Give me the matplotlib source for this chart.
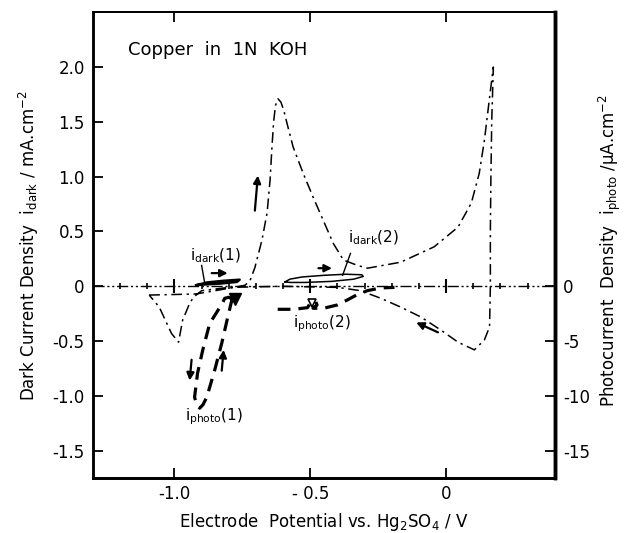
import matplotlib
matplotlib.use("Agg")
import matplotlib.pyplot as plt

plt.rcParams["font.family"] = "DejaVu Sans"
plt.rcParams["axes.unicode_minus"] = False

# Dark current cyclic voltammogram (V vs Hg2SO4, mA/cm2)
dark_v = [-1.093, -1.0, -0.92, -0.85, -0.78, -0.74, -0.722, -0.704, -0.678, -0.659, -0.648,
          -0.641, -0.635, -0.628, -0.619, -0.608, -0.597, -0.585, -0.563, -0.526, -0.489,
          -0.452, -0.415, -0.378, -0.326, -0.289, -0.167, -0.044, 0.044, 0.093, 0.122,
          0.141, 0.159, 0.174,
          0.168, 0.165, 0.163, 0.163, 0.160, 0.141, 0.104, 0.044, -0.019, -0.093, -0.167,
          -0.24, -0.315, -0.40, -0.60, -0.80, -0.90, -0.93, -0.944, -0.97, -0.985,
          -1.011, -1.056, -1.093]
dark_i = [-0.08, -0.075, -0.07, -0.04, -0.01, 0.01, 0.05, 0.17, 0.42, 0.67, 0.97,
          1.27, 1.50, 1.65, 1.71, 1.68, 1.60, 1.48, 1.27, 1.03, 0.81,
          0.60, 0.39, 0.24, 0.19, 0.165, 0.22, 0.36, 0.54, 0.76, 1.03,
          1.33, 1.70, 2.0,
          1.5, 1.0, 0.5, 0.0, -0.37, -0.49, -0.58, -0.51, -0.40, -0.28, -0.19,
          -0.11, -0.04, -0.01, 0.0, -0.01, -0.04, -0.10, -0.155, -0.31, -0.51,
          -0.43, -0.19, -0.08]

# Small dark loops
dark1_v = [-0.92, -0.88, -0.82, -0.76, -0.77, -0.83, -0.90, -0.92]
dark1_i = [0.01, 0.035, 0.05, 0.06, 0.04, 0.025, 0.015, 0.01]
dark2_v = [-0.593, -0.575, -0.53, -0.45, -0.37, -0.31, -0.305, -0.34, -0.42, -0.52, -0.575, -0.593]
dark2_i = [0.04, 0.065, 0.085, 0.10, 0.11, 0.105, 0.09, 0.065, 0.045, 0.035, 0.035, 0.04]

# Photocurrent (uA/cm2)
photo1_v = [-0.785, -0.80, -0.815, -0.822, -0.845, -0.870, -0.896, -0.915, -0.926, -0.918,
            -0.907, -0.895, -0.881, -0.852, -0.826, -0.804, -0.789]
photo1_i = [-1.2, -1.0, -1.1, -1.46, -2.4, -3.37, -5.83, -7.93, -10.12, -10.8,
            -11.12, -10.8, -10.12, -7.66, -5.2, -2.83, -1.28]
photo2_v = [-0.62, -0.56, -0.51, -0.50, -0.48, -0.475, -0.49, -0.45, -0.40, -0.36,
            -0.33, -0.29, -0.24, -0.19]
photo2_i = [-2.1, -2.1, -1.95, -1.5, -1.4, -1.7, -2.0, -2.0, -1.7, -1.2,
            -0.8, -0.4, -0.15, -0.1]

zero_marks = [-1.2, -1.1, -0.9, -0.8, -0.7, -0.6, -0.4, -0.3, -0.2, -0.1, 0.1, 0.2, 0.3]
zero_big = [-1.0, -0.5, 0.0]

left_ticks = [2.0, 1.5, 1.0, 0.5, 0.0, -0.5, -1.0, -1.5]
left_labels = ["2.0", "1.5", "1.0", "0.5", "0", "-0.5", "-1.0", "-1.5"]
right_ticks = [0, -5, -10, -15]
right_labels = ["0", "-5", "-10", "-15"]
x_ticks = [-1.0, -0.5, 0.0]
x_labels = ["-1.0", "- 0.5", "0"]

fig = plt.figure(figsize=(6.24, 5.33), dpi=100)
ax = fig.add_axes([0.149, 0.103, 0.740, 0.874])
ax2 = ax.twinx()

ax.set_xlim(-1.3, 0.4)
ax.set_ylim(-1.75, 2.5)
ax2.set_ylim(-17.5, 25)

# zero line with small marks
ax.plot([-1.3, 0.4], [0, 0], color="black", lw=1.0, ls=(0, (8, 2, 1.5, 2, 1.5, 2)))
ax.plot(zero_marks, [0] * len(zero_marks), ls="none", marker="|", ms=5, mew=1.2, color="black")
ax.plot(zero_big, [0] * len(zero_big), ls="none", marker="|", ms=10, mew=1.5, color="black")

ax.plot(dark_v, dark_i, color="black", lw=1.1, ls=(0, (7, 3, 1.5, 3)))
ax.plot(dark1_v, dark1_i, color="black", lw=1.8)
ax.plot(dark2_v, dark2_i, color="black", lw=1.1)

ax2.plot(photo1_v, photo1_i, color="black", lw=2.3, ls=(0, (4, 2.5)))
ax2.plot(photo2_v, photo2_i, color="black", lw=2.3, ls=(0, (4, 2.5)))
ax.plot([-0.778], [-0.12], marker="v", ms=8, color="black", ls="none")
ax.plot([-0.493], [-0.15], marker="v", ms=6, mfc="white", mec="black", mew=1.2, ls="none")

# arrows
arrows = [((-0.863, 0.12), (-0.804, 0.12)),
          ((-0.704, 0.69), (-0.693, 1.01)),
          ((-0.47, 0.165), (-0.42, 0.165)),
          ((-0.03, -0.42), (-0.11, -0.33)),
          ((-0.937, -0.67), (-0.944, -0.86)),
          ((-0.826, -0.77), (-0.819, -0.58))]
for tail, head in arrows:
    ax.annotate("", xy=head, xytext=tail,
                arrowprops=dict(arrowstyle="-|>", color="black", lw=1.6,
                                mutation_scale=11, shrinkA=0, shrinkB=0))

# leader lines
ax.plot([-0.90, -0.889], [0.19, 0.036], color="black", lw=1.0)
ax.plot([-0.352, -0.381], [0.30, 0.10], color="black", lw=1.0)

lab_kw = dict(fontsize=11, ha="center", va="center")
ax.text(-0.848, 0.28, r"$\mathregular{i_{dark}(1)}$", **lab_kw)
ax.text(-0.267, 0.44, r"$\mathregular{i_{dark}(2)}$", **lab_kw)
ax.text(-0.855, -1.19, r"$\mathregular{i_{photo}(1)}$", **lab_kw)
ax.text(-0.456, -0.34, r"$\mathregular{i_{photo}(2)}$", **lab_kw)

ax.text(0.076, 0.918, "Copper  in  1N  KOH", transform=ax.transAxes,
        fontsize=13, ha="left", va="center")

ax.set_xticks(x_ticks)
ax.set_xticklabels(x_labels)
ax.set_yticks(left_ticks)
ax.set_yticklabels(left_labels)
ax2.set_yticks(right_ticks)
ax2.set_yticklabels(right_labels)

ax.tick_params(axis="both", direction="in", length=7, width=1.3, labelsize=12, pad=6)
ax.tick_params(axis="x", top=True, pad=5)
ax2.tick_params(axis="y", direction="in", length=7, width=1.3, labelsize=12, pad=6)

for sp, w in [("left", 1.8), ("bottom", 2.0), ("top", 1.3), ("right", 2.5)]:
    ax.spines[sp].set_linewidth(w)
    ax2.spines[sp].set_linewidth(w)

ax.set_xlabel(r"Electrode  Potential vs. Hg$\mathregular{_2}$SO$\mathregular{_4}$ / V",
              fontsize=12, labelpad=6)
ax.set_ylabel(r"Dark Current Density  $\mathregular{i_{dark}}$ / mA.cm$\mathregular{^{-2}}$",
              fontsize=12, labelpad=8)
fig.text(0.998, 0.53,
         r"Photocurrent  Density  $\mathregular{i_{photo}}$ /$\mathregular{\mu}$A.cm$\mathregular{^{-2}}$",
         rotation=90, fontsize=12, ha="right", va="center")

fig.savefig("out.png", dpi=100)
